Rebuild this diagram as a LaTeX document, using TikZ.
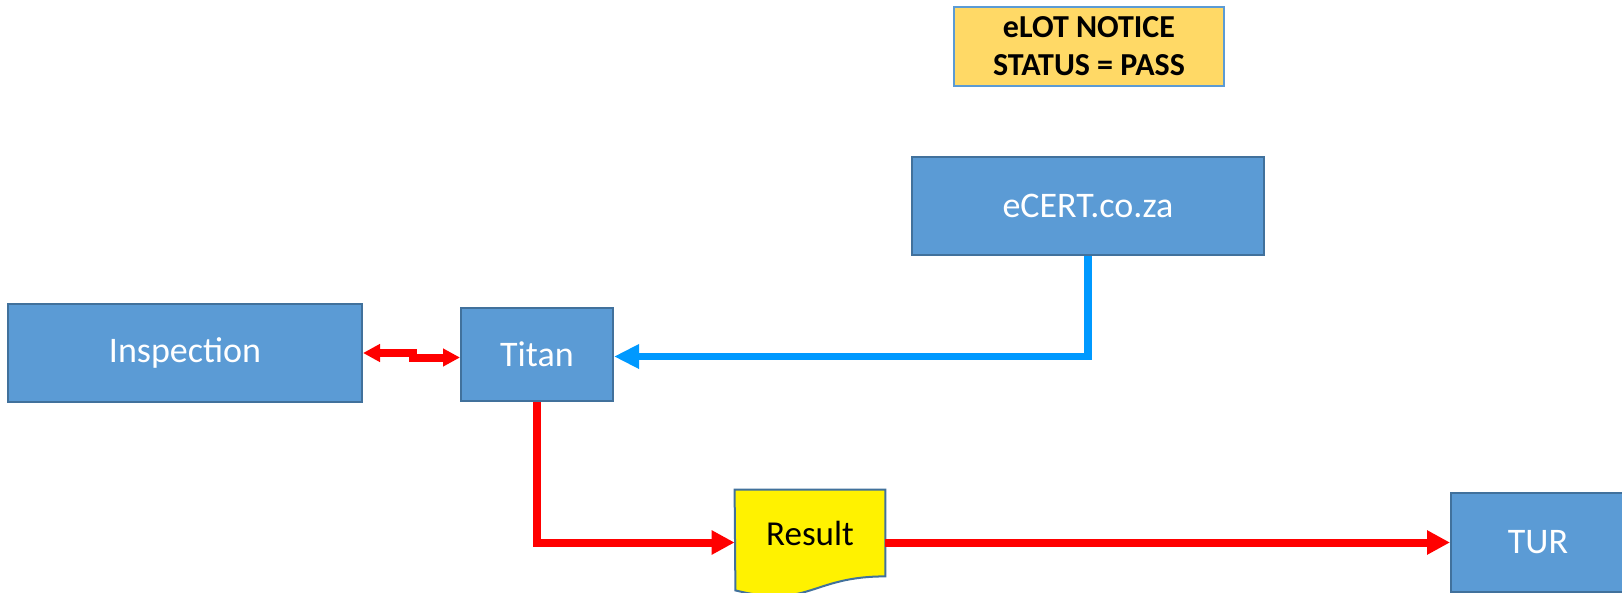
\documentclass[tikz,border=0pt]{standalone}
\usepackage{fontspec}
\setmainfont{Carlito}
\usetikzlibrary{arrows.meta,backgrounds}
\definecolor{boxblue}{HTML}{5B9BD5}
\definecolor{boxedge}{HTML}{41719C}
\definecolor{notefill}{HTML}{FFD966}
\definecolor{linkblue}{HTML}{0099FF}

\begin{document}
\begin{tikzpicture}
[
x=0.5pt, y=-0.5pt,
boxnode/.style={rectangle, draw=boxedge, fill=boxblue, line width=1pt, text=white, font=\fontsize{18}{22}\selectfont, inner sep=0pt},
notenode/.style={rectangle, draw=boxblue, fill=notefill, line width=1pt, align=center, font=\bfseries\fontsize{16}{19}\selectfont, inner sep=0pt},
docnode/.style={draw=boxedge, fill=yellow, line width=1pt},
nodelabel/.style={font=\fontsize{17.5}{20}\selectfont, inner sep=0pt},
redline/.style={draw=red, line width=4pt},
blueline/.style={draw=linkblue, line width=3.8pt},
]
\useasboundingbox (0,0) rectangle (1622,593);
%draw the boxes
\node[notenode, minimum width=135pt, minimum height=39.5pt] (elot) at (1089,46.5) {eLOT NOTICE\\STATUS = PASS};
\node[boxnode, minimum width=176pt, minimum height=49pt] (ecert) at (1088,206) {eCERT.co.za};
\node[boxnode, minimum width=177pt, minimum height=49pt] (ins) at (185,353) {Inspection};
\node[boxnode, minimum width=76pt, minimum height=46.5pt] (titan) at (537,354.5) {Titan};
\node[boxnode, minimum width=87pt, minimum height=49.5pt] (tur) at (1538,542.5) {TUR};
%draw the result document
\node[nodelabel, minimum width=75pt, minimum height=43pt] (res) at (810,533) {Result};
\begin{scope}[on background layer]
\filldraw[docnode] (res.south east) .. controls +(-75,0) and +(75,18.5) .. ++(-150,14) -- (res.north west) -- (res.north east) -- cycle;
\end{scope}
%draw the arrows
\draw[redline, {Triangle[length=8.5pt,width=8.5pt]}-{Triangle[length=8.5pt,width=8.5pt]}] (ins.east) -- ++(50,0) |- ([shift={(0,3)}]titan.west);
\draw[blueline, -{Triangle[length=12.5pt,width=11.5pt]}] (ecert.south) |- ([shift={(0,2)}]titan.east);
\draw[redline, -{Triangle[length=11.5pt,width=11.5pt]}] (titan.south) |- (res.west |- tur.west);
\draw[redline, -{Triangle[length=11.5pt,width=11.5pt]}] (res.east |- tur.west) -- (tur.west);
\end{tikzpicture}
\end{document}
